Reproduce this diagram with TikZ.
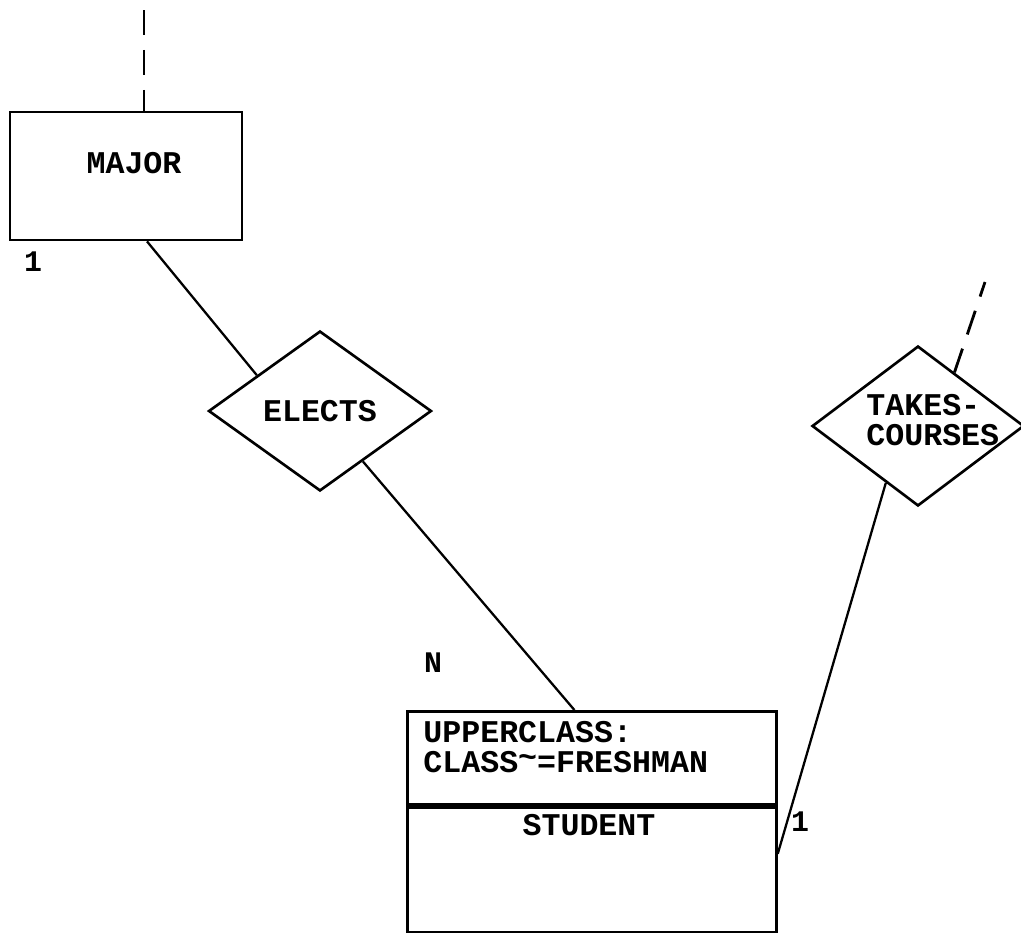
\documentclass[tikz,border=0pt]{standalone}
\usepackage{fontspec}
\setmainfont{Liberation Mono}
\usepackage{tikz}
\usetikzlibrary{positioning,shapes.geometric,calc}

\begin{document}
\begin{tikzpicture}[
    x=0.02cm, y=-0.02cm,
    font=\fontsize{18}{17}\selectfont\bfseries,
    entity/.style={draw, line width=1.6pt, inner sep=0pt},
    relation/.style={diamond, draw, line width=1.5pt, inner sep=0pt, align=center},
    link/.style={line width=1.3pt},
    dashlink/.style={line width=1.6pt, dash pattern=on 0.5cm off 0.3cm},
    lbl/.style={inner sep=0pt, align=left},
    card/.style={inner sep=0pt, font=\fontsize{17}{17}\selectfont\bfseries},
  ]
  \useasboundingbox (0,0) rectangle (1021,933);
  % entities
  \node[entity, minimum width=4.64cm, minimum height=2.56cm] (major) at (126,176) {};
  \node[lbl] (majortext) at (134,163) {MAJOR};
  \node[entity, minimum width=7.38cm, minimum height=1.86cm, anchor=north west] (upper) at (406,710) {};
  \node[entity, minimum width=7.38cm, minimum height=2.5cm, anchor=north] (student) at (upper.south) {};
  \node[lbl, anchor=north west] (uppertext) at (423,721) {UPPERCLASS:\\CLASS\raisebox{0.3ex}{\textasciitilde}=FRESHMAN};
  \node[lbl] (studenttext) at (589,825) {STUDENT};
  % relationships
  \node[relation, minimum width=4.46cm, minimum height=3.2cm] (elects) at (320,411) {ELECTS};
  \node[relation, minimum width=4.24cm, minimum height=3.2cm] (takes) at (918,426) {};
  \node[lbl, anchor=west] (takestext) at (866,420) {TAKES-\\COURSES};
  % cardinalities
  \node[card] (c1) at (33,262) {1};
  \node[card] (cn) at (433,663) {N};
  \node[card] (c2) at (800,822) {1};
  % connectors
  \coordinate (majtop) at (144,10);
  \coordinate (takestop) at (985,282);
  \draw[dashlink] (majtop) -- (majtop |- major.north);
  \draw[link] ($(major.south)+(21,0)$) -- ($(elects.west)!0.44!(elects.north)$);
  \draw[link] ($(elects.south)!0.38!(elects.east)$) -- ($(upper.north west)!0.453!(upper.north east)$);
  \draw[dashlink] ($(takes.north)!0.34!(takes.east)$) -- (takestop);
  \draw[link] ($(takes.south)!0.3!(takes.west)$) -- ($(student.north east)!0.376!(student.south east)$);
\end{tikzpicture}
\end{document}
